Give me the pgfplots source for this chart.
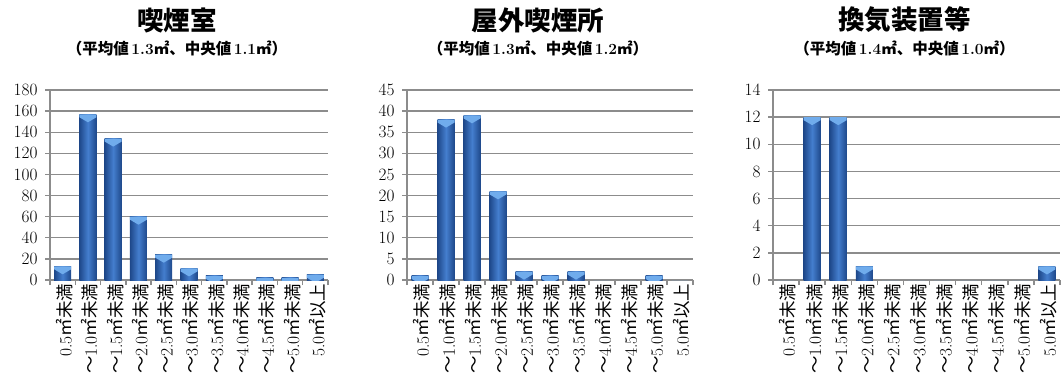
\documentclass[border=0pt]{standalone}
\usepackage{fontspec}
\usepackage{pgfplots}
\usepackage{pgfplotstable}
\pgfplotsset{compat=1.18}
\newfontfamily\cjk{Noto Sans CJK JP}

\definecolor{gridgray}{RGB}{140,140,140}
\definecolor{baredge}{RGB}{30,72,138}
\definecolor{barmid}{RGB}{68,126,206}
\definecolor{barcap}{RGB}{112,172,236}

% counts per floor-area class
\pgfplotstableread{
x y
0 13
1 157
2 134
3 60
4 24
5 11
6 4
7 0
8 2
9 2
10 5
}\roomdata
\pgfplotstableread{
x y
0 1
1 38
2 39
3 21
4 2
5 1
6 2
7 0
8 0
9 1
10 0
}\outdoordata
\pgfplotstableread{
x y
0 0
1 12
2 12
3 1
4 0
5 0
6 0
7 0
8 0
9 0
10 1
}\ventdata

\newcommand\lt[1]{{\cjk ～}#1{\cjk ㎡未満}}
\newcommand\sqm{{\cjk ㎡}}

% light bevel at the top of each bar, drawn at pgf level inside the bar
\newcommand\bbox[1]{\pgfpointanchor{path picture bounding box}{#1}}
\newcommand\barcapfill{%
  \pgfsetfillcolor{barcap}%
  \pgfpathmoveto{\bbox{north west}}%
  \pgfpathlineto{\bbox{north east}}%
  \pgfpathlineto{\pgfpointadd{\bbox{north east}}{\pgfpoint{0pt}{-3pt}}}%
  \pgfpathlineto{\pgfpointadd{\bbox{north}}{\pgfpoint{0pt}{-8pt}}}%
  \pgfpathlineto{\pgfpointadd{\bbox{north west}}{\pgfpoint{0pt}{-3pt}}}%
  \pgfpathclose
  \pgfusepath{fill}%
}

\pgfplotsset{
  areabars/.style={
    scale only axis, height=190pt, clip=false,
    xmin=-0.5, xmax=10.5, ymin=0,
    axis lines*=left,
    axis line style={gridgray, line width=1.4pt},
    ymajorgrids, grid style={gridgray, line width=1.4pt},
    tick align=outside,
    major tick length=0pt, minor tick length=5pt,
    minor tick style={gridgray, line width=1.4pt},
    xtick={0,...,10},
    minor xtick={-0.5,0.5,...,10.5},
    xticklabels={0.5{\cjk ㎡未満},\lt{1.0},\lt{1.5},\lt{2.0},\lt{2.5},\lt{3.0},\lt{3.5},\lt{4.0},\lt{4.5},\lt{5.0},5.0{\cjk ㎡以上}},
    xticklabel style={rotate=90, anchor=east, yshift=-2pt, font=\fontsize{17.5}{17.5}\selectfont},
    yticklabel style={xshift=-9pt, font=\fontsize{17.5}{17.5}\selectfont},
    ybar, bar width=17pt,
  },
  % each bar is its own path so that it gets its own shading and cap
  bevelbar/.style={
    draw=none, forget plot, bar shift=0pt,
    left color=baredge, right color=baredge, middle color=barmid,
    path picture={\barcapfill},
  },
}

\newcommand\plotbars[1]{%
  \pgfplotsinvokeforeach{0,...,10}{%
    \addplot[bevelbar] table[x=x,y=y, restrict x to domain=##1:##1] {#1};
  }%
}

\newcommand\charttitle[2]{%
  \node[font=\cjk\bfseries\fontsize{26.5}{26.5}\selectfont, xshift=-12pt, yshift=70pt]
    at (rel axis cs:0.5,1) {#1};
  \node[font=\bfseries\fontsize{15.5}{15.5}\selectfont, xshift=-12pt, yshift=42pt]
    at (rel axis cs:0.5,1) {#2};
}

\begin{document}
\begin{tikzpicture}
\path[use as bounding box] (0,0) rectangle (1063pt,389pt);

\begin{axis}[areabars, at={(50pt,109pt)}, anchor=south west,
  width=278pt, ymax=180, ytick={0,20,...,180}, minor ytick={0,20,...,180}]
  \plotbars{\roomdata}
  \charttitle{喫煙室}{{\cjk（平均値}\,1.3\sqm{\cjk 、中央値}\,1.1\sqm{\cjk ）}}
\end{axis}

\begin{axis}[areabars, at={(407pt,109pt)}, anchor=south west,
  width=286pt, ymax=45, ytick={0,5,...,45}, minor ytick={0,5,...,45}]
  \plotbars{\outdoordata}
  \charttitle{屋外喫煙所}{{\cjk（平均値}\,1.3\sqm{\cjk 、中央値}\,1.2\sqm{\cjk ）}}
\end{axis}

\begin{axis}[areabars, at={(773pt,109pt)}, anchor=south west,
  width=287pt, ymax=14, ytick={0,2,...,14}, minor ytick={0,2,...,14}]
  \plotbars{\ventdata}
  \charttitle{換気装置等}{{\cjk（平均値}\,1.4\sqm{\cjk 、中央値}\,1.0\sqm{\cjk ）}}
\end{axis}
\end{tikzpicture}
\end{document}
